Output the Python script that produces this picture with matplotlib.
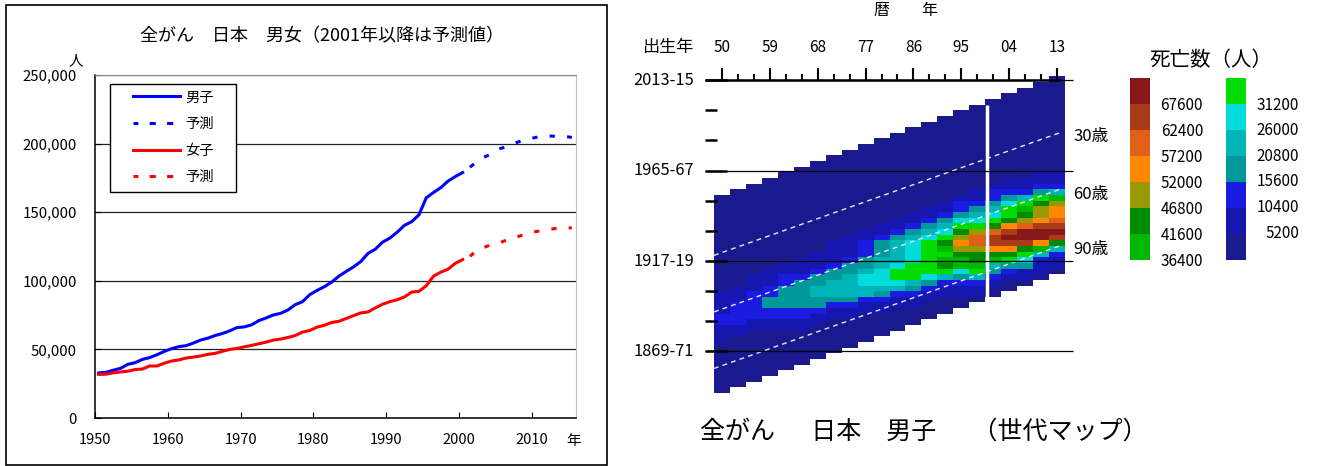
#
# Cancer deaths in Japan: yearly totals and the cohort map for men
#
import matplotlib
matplotlib.use('Agg')
import matplotlib.pyplot as plt
import numpy as np
from matplotlib.colors import BoundaryNorm, ListedColormap
from matplotlib.patches import Rectangle

plt.rcParams['font.family'] = ['Noto Sans CJK JP', 'DejaVu Sans']

W = 1318
H = 466

# yearly deaths
years = list(range(1950, 2001))
male = [32800, 33300, 34800, 36200, 39100, 40300, 42700, 44000, 46100, 48500,
        50500, 52000, 52700, 54600, 56800, 58200, 60100, 61600, 63500, 65900,
        66400, 67900, 71000, 72900, 75100, 76300, 78700, 82600, 84800, 89900,
        93000, 95700, 99000, 103400, 106800, 110100, 114000, 120000, 123000, 128200,
        131100, 135400, 140400, 143100, 148100, 160500, 164400, 167900, 172700, 176000,
        178900]
female = [31800, 31900, 32900, 33600, 34100, 35300, 35700, 37900, 37900, 39900,
          41500, 42300, 43700, 44400, 45200, 46400, 47100, 48600, 50000, 50700,
          51900, 52900, 54100, 55300, 56800, 57500, 58700, 60100, 62600, 63800,
          66200, 67600, 69600, 70500, 72500, 74600, 76600, 77300, 80200, 82900,
          84800, 86200, 88200, 91800, 92300, 96400, 103400, 106300, 108500, 112800,
          115500]
pred_years = list(range(2001, 2016))
male_pred = [182800, 187100, 190200, 192800, 196200, 197600, 200000, 201900, 203100, 204500,
             205300, 205500, 205300, 205300, 204500]
female_pred = [117800, 122500, 124500, 126500, 127500, 129700, 131000, 133000, 134800, 135800,
               136800, 137500, 138400, 138700, 138500]

yticks = [0, 50000, 100000, 150000, 200000, 250000]
xticks = [1950, 1960, 1970, 1980, 1990, 2000, 2010]

# cohort map: one string per 3-year period, one band per 3-year age class (young at the start)
periods = list(range(1950, 2016, 3))
bands_by_period = [
    '00000000000000000' '1111' '22' '111' '000000000',
    '00000000000000000' '111' '2222' '11' '000000000',
    '0000000000000000' '111' '22222' '11' '000000000',
    '0000000000000000' '111' '22' '33' '22' '11' '00000000',
    '0000000000000000' '11' '22' '3333' '22' '11' '0000000',
    '0000000000000000' '111' '2' '33333' '22' '11' '000000',
    '0000000000000000' '111' '2' '33' '44' '33' '2' '11' '000000',
    '000000000000000' '1111' '2' '33' '444' '3' '2' '11' '000000',
    '000000000000000' '1111' '2' '33' '4444' '3' '2' '11' '00000',
    '000000000000000' '11' '222' '33' '4' '55' '44' '2' '11' '00000',
    '000000000000000' '11' '2' '333' '44' '555' '4' '3' '2' '11' '0000',
    '000000000000000' '11' '2' '3' '4444' '5' '66' '5' '4' '2' '11' '0000',
    '000000000000000' '11' '2' '3' '4' '5555' '666' '4' '3' '2' '11' '000',
    '000000000000000' '11' '2' '3' '4' '5' '666666' '5' '3' '2' '11' '000',
    '000000000000000' '11' '2345687678642' '11' '000',
    '000000000000000' '1' '22' '35689a98' '77' '532' '11' '00',
    '000000000000000' '11' '234569' 'bb' '9' '88' '7642' '11' '0',
    '000000000000000' '1' '22' '34568b' 'cc' 'a874321' '00',
    '000000000000000' '11' '235' '66' '8acdca86321' '00',
    '0000000000000000' '11' '246789b' 'dd' 'c8653' '11' '0',
    '0000000000000000' '11' '2368' '99' 'ac' 'dd' 'a742' '11' '0',
    '00000000000000000' '11' '2479' 'aa' 'bcdc842' '11' '0',
]
band_step = 5200
band_colors = ['#1a1a8e', '#1616b0', '#1a1ae0', '#009898', '#00b5b8', '#00dcdc', '#00dc00',
               '#00b800', '#008c00', '#999900', '#ff8800', '#e06018', '#a83c18', '#881818']
scale_left = [67600, 62400, 57200, 52000, 46800, 41600, 36400]
scale_right = [31200, 26000, 20800, 15600, 10400, 5200]

cohort_ticks = [2013, 1965, 1917, 1869]
cohort_labels = ['2013-15', '1965-67', '1917-19', '1869-71']
cohort_minor = [1997, 1981, 1949, 1933, 1901, 1885]
period_labels = ['50', '59', '68', '77', '86', '95', '04', '13']
age_lines = [30, 60, 90]


def box(x0, y0, x1, y1):
    return [x0 / W, 1 - y1 / H, (x1 - x0) / W, (y1 - y0) / H]


def put(x, y, s, **kw):
    kw.setdefault('ha', 'center')
    kw.setdefault('va', 'center')
    fig.text(x / W, 1 - y / H, s, **kw)


fig = plt.figure(figsize=(W / 100, H / 100), dpi=100)
fig.patches.append(Rectangle((6 / W, 1 - 465 / H), 601 / W, 460 / H, transform=fig.transFigure,
                             fill=False, edgecolor='black', linewidth=1.2))

# left chart
ax = fig.add_axes(box(95, 75, 575.5, 418))
ax.plot(np.array(years) + 0.5, male, color='#0000ff', lw=2.2, label='男子')
ax.plot(np.array(pred_years) + 0.5, male_pred, color='#0000ff', lw=2.2, linestyle=(0, (1.7, 4)))
ax.plot(np.array(years) + 0.5, female, color='#ff0000', lw=2.2)
ax.plot(np.array(pred_years) + 0.5, female_pred, color='#ff0000', lw=2.2, linestyle=(0, (1.7, 4)))
ax.set_xlim(1950, 2016)
ax.set_ylim(0, 250000)
ax.set_yticks(yticks)
ax.set_yticklabels([f'{v:,}' for v in yticks], fontsize=10.8)
ax.set_xticks(xticks)
ax.set_xticklabels(xticks, fontsize=10.5)
ax.tick_params(direction='in', length=4, width=0.8)
ax.tick_params(axis='x', pad=11)
ax.tick_params(axis='y', pad=13)
ax.grid(axis='y', color='#222222', lw=0.9)
ax.set_axisbelow(True)
ax.spines['top'].set_color('#888888')
ax.spines['right'].set_color('#c4c4c4')
ax.spines['left'].set_linewidth(1.1)
ax.spines['bottom'].set_linewidth(1.1)

ax.add_patch(Rectangle(((110 - 95) / 480.5, (418 - 192) / 343), 126 / 480.5, 108 / 343,
                       transform=ax.transAxes, facecolor='white', edgecolor='black', lw=1, zorder=5))
h = [plt.Line2D([], [], color='#0000ff', lw=2.2),
     plt.Line2D([], [], color='#0000ff', lw=2.2, linestyle=(0.4, (2, 3.7))),
     plt.Line2D([], [], color='#ff0000', lw=2.2),
     plt.Line2D([], [], color='#ff0000', lw=2.2, linestyle=(0.4, (2, 3.7)))]
leg = ax.legend(h, ['男子', '予測', '女子', '予測'], loc='upper left', fontsize=10.3,
                bbox_to_anchor=((133 - 95) / 480.5, (418 - 90.5) / 343), frameon=False,
                borderpad=0, borderaxespad=0, handlelength=3.3, handletextpad=0.35,
                labelspacing=0.88)
leg.set_zorder(6)

put(322, 36, '全がん　日本　男女（2001年以降は予測値）', fontsize=13)
put(76, 61, '人', fontsize=10.5)
put(574, 441, '年', fontsize=10.5)

# cohort map
n_age = len(bands_by_period[0])
n_per = len(periods)
grid = np.full((n_age + n_per - 1, n_per), np.nan)
for j, s in enumerate(bands_by_period):
    for i, c in enumerate(s):
        grid[i - j + n_per - 1, j] = (int(c, 16) + 0.5) * band_step

cmap = ListedColormap(band_colors)
levels = np.arange(len(band_colors) + 1) * band_step
norm = BoundaryNorm(levels, cmap.N)

# cell rows sit one year below the start of the birth cohort
y_edges = 1952 - 3 * (np.arange(grid.shape[0] + 1) - (n_per - 1))
x_edges = np.array(periods + [periods[-1] + 3])

mp = fig.add_axes(box(714, 74.4, 1065, 400.5))
mp.pcolormesh(x_edges, y_edges, np.ma.masked_invalid(grid), cmap=cmap, norm=norm)
mp.set_xlim(1950, 2016)
mp.set_ylim(1843, 2016)
mp.axis('off')

for a in age_lines:
    xs = np.array([1950, 2015.6])
    mp.plot(xs, xs - a, color='#e8e8f0', lw=1, linestyle=(0, (3.5, 3)), zorder=3)
mp.vlines(2001.3, 1850, 2000, color='white', lw=2.5, zorder=4)

left_end = 1950 - 9 / (351 / 66)
right_end = 2016 + 8 / (351 / 66)
for c in cohort_ticks:
    mp.hlines(c, left_end, right_end, color='black', lw=0.9, clip_on=False, zorder=5)
    mp.hlines(c, left_end, 1950 + 13 / (351 / 66), color='black', lw=1.8, clip_on=False, zorder=6)
for c in cohort_minor:
    mp.hlines(c, left_end, 1950 + 2.5 / (351 / 66), color='black', lw=1.8, clip_on=False, zorder=6)
mp.hlines(cohort_ticks[0], left_end, 2015, color='black', lw=1.8, clip_on=False, zorder=6)

tick_x = np.array(periods) + 1.5
for k, x in enumerate(tick_x):
    top = 2013 + (6.3 if k % 3 == 0 else 3.2)
    mp.vlines(x, 2013, top, color='black', lw=1.5, clip_on=False, zorder=6)

for x, s in zip(tick_x[::3], period_labels):
    px = 714 + (x - 1950) * 351 / 66
    put(px, 47, s, fontsize=11)
for c, s in zip(cohort_ticks, cohort_labels):
    py = 261 - (c - 1917) * 1.885
    put(694, py, s, ha='right', fontsize=11.8)
for a, py in zip(age_lines, [137, 194, 250]):
    put(1073, py, f'{a}歳', ha='left', fontsize=12)

put(906, 10, '暦　　年', fontsize=11.5)
put(667.5, 47, '出生年', fontsize=12.3)
put(1211, 60, '死亡数（人）', fontsize=14.8)
put(700, 432, '全がん　  日本　男子　  （世代マップ）', ha='left', fontsize=18)

# colour scale
col_high = fig.add_axes(box(1129.5, 78, 1149.5, 260))
col_high.pcolormesh([0, 1], np.arange(8), (np.arange(7) + 7.5)[:, None] * band_step, cmap=cmap, norm=norm)
col_high.axis('off')
col_low = fig.add_axes(box(1225.5, 78, 1246, 260))
col_low.pcolormesh([0, 1], np.arange(8), (np.arange(7) + 0.5)[:, None] * band_step, cmap=cmap, norm=norm)
col_low.axis('off')

for k, v in enumerate(scale_left):
    put(1203, 105 + 26 * k, str(v), ha='right', fontsize=11)
for k, v in enumerate(scale_right):
    put(1299, 105 + 25.6 * k, str(v), ha='right', fontsize=11)

fig.savefig('out.png', dpi=100)
